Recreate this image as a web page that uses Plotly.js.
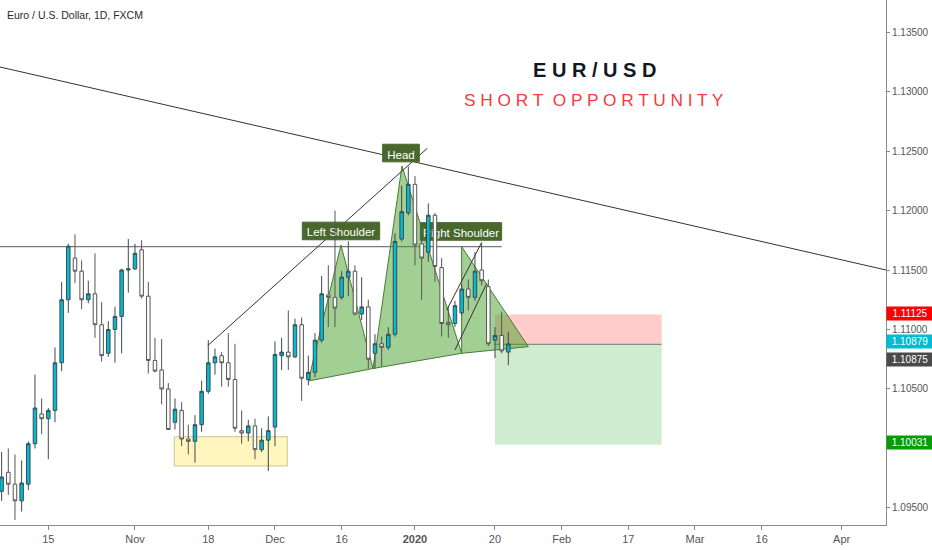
<!DOCTYPE html>
<html>
<head>
<meta charset="utf-8">
<script src="https://cdn.plot.ly/plotly-3.0.1.min.js"></script>
<style>html,body{margin:0;padding:0;background:#fff;}#chart{width:932px;height:550px;}</style>
</head>
<body>
<div id="chart"></div>
<script>
// ---------- data ----------
const dates = [
 '2019-10-04','2019-10-07','2019-10-08','2019-10-09','2019-10-10','2019-10-11','2019-10-14','2019-10-15','2019-10-16','2019-10-17',
 '2019-10-18','2019-10-21','2019-10-22','2019-10-23','2019-10-24','2019-10-25','2019-10-28','2019-10-29','2019-10-30','2019-10-31',
 '2019-11-01','2019-11-04','2019-11-05','2019-11-06','2019-11-07','2019-11-08','2019-11-11','2019-11-12','2019-11-13','2019-11-14',
 '2019-11-15','2019-11-18','2019-11-19','2019-11-20','2019-11-21','2019-11-22','2019-11-25','2019-11-26','2019-11-27','2019-11-28',
 '2019-11-29','2019-12-02','2019-12-03','2019-12-04','2019-12-05','2019-12-06','2019-12-09','2019-12-10','2019-12-11','2019-12-12',
 '2019-12-13','2019-12-16','2019-12-17','2019-12-18','2019-12-19','2019-12-20','2019-12-23','2019-12-24','2019-12-26','2019-12-27',
 '2019-12-30','2019-12-31','2020-01-02','2020-01-03','2020-01-06','2020-01-07','2020-01-08','2020-01-09','2020-01-10','2020-01-13',
 '2020-01-14','2020-01-15','2020-01-16','2020-01-17','2020-01-20','2020-01-21','2020-01-22'];
const open = [
 1.0964,1.0980,1.0970,1.0956,1.0970,1.1004,1.1029,1.1025,1.1032,1.1072,
 1.1125,1.1160,1.1149,1.1125,1.1130,1.1104,1.1080,1.1100,1.1111,1.1150,
 1.1151,1.1167,1.1128,1.1074,1.1066,1.1050,1.1022,1.1032,1.1008,1.1006,
 1.1020,1.1048,1.1072,1.1078,1.1072,1.1058,1.1015,1.1013,1.1019,1.0999,
 1.1007,1.1018,1.1078,1.1081,1.1077,1.1104,1.1058,1.1064,1.1091,1.1129,
 1.1127,1.1127,1.1144,1.1149,1.1113,1.1119,1.1080,1.1088,1.1085,1.1096,
 1.1176,1.1198,1.1222,1.1172,1.1165,1.1196,1.1152,1.1106,1.1105,1.1114,
 1.1134,1.1127,1.1150,1.1136,1.1091,1.1095,1.1081];
const high = [
 1.0997,1.1000,1.0995,1.0990,1.1006,1.1062,1.1042,1.1034,1.1085,1.1140,
 1.1172,1.1180,1.1158,1.1141,1.1164,1.1123,1.1107,1.1119,1.1151,1.1176,
 1.1172,1.1175,1.1140,1.1093,1.1092,1.1055,1.1042,1.1039,1.1020,1.1028,
 1.1057,1.1091,1.1084,1.1081,1.1097,1.1088,1.1032,1.1024,1.1025,1.1017,
 1.1027,1.1090,1.1093,1.1116,1.1109,1.1110,1.1078,1.1097,1.1145,1.1154,
 1.1200,1.1149,1.1174,1.1154,1.1144,1.1125,1.1096,1.1094,1.1102,1.1181,
 1.1221,1.1237,1.1229,1.1181,1.1206,1.1198,1.1160,1.1119,1.1124,1.1138,
 1.1142,1.1165,1.1173,1.1142,1.1102,1.1115,1.1098];
const low = [
 1.0956,1.0961,1.0940,1.0947,1.0965,1.1000,1.1012,1.0991,1.1022,1.1065,
 1.1114,1.1139,1.1117,1.1122,1.1093,1.1073,1.1077,1.1072,1.1080,1.1131,
 1.1150,1.1126,1.1063,1.1064,1.1037,1.1016,1.1016,1.1002,1.0995,1.0988,
 1.1014,1.1046,1.1062,1.1052,1.1052,1.1014,1.1004,1.1006,1.0991,1.0997,
 1.0981,1.1002,1.1066,1.1066,1.1076,1.1040,1.1053,1.1060,1.1089,1.1102,
 1.1102,1.1125,1.1128,1.1112,1.1108,1.1067,1.1067,1.1069,1.1083,1.1094,
 1.1174,1.1196,1.1154,1.1125,1.1157,1.1140,1.1094,1.1093,1.1102,1.1112,
 1.1116,1.1124,1.1137,1.1086,1.1076,1.1080,1.1070];
const close = [
 1.0976,1.0970,1.0956,1.0971,1.1004,1.1034,1.1025,1.1032,1.1072,1.1125,
 1.1170,1.1149,1.1125,1.1130,1.1104,1.1078,1.1100,1.1111,1.1150,1.1151,
 1.1164,1.1128,1.1074,1.1065,1.1050,1.1016,1.1033,1.1008,1.1006,1.1020,
 1.1048,1.1072,1.1077,1.1072,1.1058,1.1017,1.1013,1.1019,1.0999,1.1007,
 1.1015,1.1079,1.1081,1.1077,1.1104,1.1059,1.1064,1.1091,1.1130,1.1127,
 1.1118,1.1144,1.1149,1.1113,1.1119,1.1075,1.1088,1.1085,1.1096,1.1174,
 1.1199,1.1222,1.1171,1.1160,1.1196,1.1153,1.1105,1.1104,1.1120,1.1134,
 1.1127,1.1149,1.1141,1.1088,1.1095,1.1082,1.10879];

const holidays = ['2019-12-25','2020-01-01'];
const baseDate = '2019-10-15';
const tickDates = ['2019-10-15','2019-11-01','2019-11-18','2019-12-02','2019-12-16','2020-01-02',
                   '2020-01-20','2020-02-03','2020-02-17','2020-03-02','2020-03-16','2020-04-01'];
const tickLabels = ['15','Nov','18','Dec','16','<b>2020</b>','20','Feb','17','Mar','16','Apr'];
const priceTicks = [1.095,1.105,1.110,1.115,1.120,1.125,1.130,1.135];

// position tool (short)
const posDates = ['2020-01-20','2020-02-24'];
const entryPrice = 1.10875, stopPrice = 1.11125, targetPrice = 1.10031, lastPrice = 1.10879;

// drawings (trading-day index, price)
const hsIdx   = [39.0, 43.9, 48.7, 53.05, 62.0, 62.0, 72.0];
const hsPrice = [1.10567, 1.11710, 1.10672, 1.12374, 1.10800, 1.11696, 1.10856];
const trendIdx = [-7.25, 125.65],  trendPrice = [1.13206, 1.11500];
const resIdx = [-7.25, 68.0],      resPrice = [1.11696, 1.11696];
const riseIdx = [23.9, 56.85],     risePrice = [1.10864, 1.12523];
const chanAIdx = [59.76, 65.0],    chanAPrice = [1.11164, 1.11731];
const chanBIdx = [61.0, 65.76],    chanBPrice = [1.10828, 1.11388];
const zoneIdx = [18.9, 35.85],     zonePrice = [1.09853, 1.10099];
const labelText  = ['Left Shoulder','Head','Right Shoulder'];
const labelIdx   = [43.9, 52.9, 61.9];
const labelPrice = [1.11828, 1.12483, 1.11824];

// ---------- helpers ----------
const DAY = 864e5;
function isTrading(ms){
  const d = new Date(ms); const wd = d.getUTCDay();
  return wd !== 0 && wd !== 6 && holidays.indexOf(d.toISOString().slice(0,10)) < 0;
}
function tIdx(s){
  const b = Date.parse(baseDate+'T00:00:00Z'), t = Date.parse(s+'T00:00:00Z');
  let n = 0;
  if (t >= b){ for (let d=b+DAY; d<=t; d+=DAY) if (isTrading(d)) n++; }
  else { for (let d=t; d<b; d+=DAY) if (isTrading(d)) n--; }
  return n;
}

const SANS = '"Liberation Sans",Arial,sans-serif';
const xs = dates.map(tIdx);
const posX = posDates.map(tIdx);

const candle = {
  type:'candlestick', x: xs, open: open, high: high, low: low, close: close,
  increasing:{line:{color:'#3b4a4f', width:1}, fillcolor:'#00bcd4'},
  decreasing:{line:{color:'#555555', width:1}, fillcolor:'#ffffff'},
  whiskerwidth:0, hoverinfo:'skip', showlegend:false
};

function tri(i,j,k){
  return 'M '+hsIdx[i]+','+hsPrice[i]+' L '+hsIdx[j]+','+hsPrice[j]+' L '+hsIdx[k]+','+hsPrice[k]+' Z';
}
function seg(xa, ya, color, width){
  return {type:'line', xref:'x', yref:'y', x0:xa[0], y0:ya[0], x1:xa[1], y1:ya[1],
          line:{color:color, width:width}, layer:'below'};
}
const shapes = [
  {type:'rect', xref:'x', yref:'y', x0:posX[0], x1:posX[1], y0:entryPrice, y1:stopPrice,
   fillcolor:'#ffcccc', line:{width:0}, layer:'below'},
  {type:'rect', xref:'x', yref:'y', x0:posX[0], x1:posX[1], y0:targetPrice, y1:entryPrice,
   fillcolor:'#d0ecd0', line:{width:0}, layer:'below'},
  seg(posX, [entryPrice, entryPrice], '#8a8a8a', 1.2),
  {type:'rect', xref:'x', yref:'y', x0:zoneIdx[0], x1:zoneIdx[1], y0:zonePrice[0], y1:zonePrice[1],
   fillcolor:'#fff5be', line:{color:'#cfc68e', width:1}, layer:'below'},
  seg(resIdx, resPrice, '#7a7a7a', 1.3),
  {type:'path', xref:'x', yref:'y', path:tri(0,1,2), fillcolor:'rgba(70,160,40,0.5)', line:{color:'#4b7a35', width:1}, layer:'below'},
  {type:'path', xref:'x', yref:'y', path:tri(2,3,4), fillcolor:'rgba(70,160,40,0.5)', line:{color:'#4b7a35', width:1}, layer:'below'},
  {type:'path', xref:'x', yref:'y', path:tri(4,5,6), fillcolor:'rgba(70,160,40,0.5)', line:{color:'#4b7a35', width:1}, layer:'below'},
  seg(trendIdx, trendPrice, '#333333', 1),
  seg(riseIdx, risePrice, '#333333', 1),
  seg(chanAIdx, chanAPrice, '#333333', 1),
  seg(chanBIdx, chanBPrice, '#333333', 1)
];
const labelHalfW = [5.8, 2.75, 6.1];
labelText.forEach(function(t, i){
  shapes.push({type:'rect', xref:'x', yref:'y',
    x0:labelIdx[i]-labelHalfW[i], x1:labelIdx[i]+labelHalfW[i],
    y0:labelPrice[i]-0.00074, y1:labelPrice[i]+0.00074,
    fillcolor:'#48682d', line:{color:'#48682d', width:1}, layer:'below',
    label:{text:t, font:{family:SANS, size:11.5, color:'#ffffff'},
           textposition:'middle center'}});
});

function priceTag(p, bg, shift){
  return {xref:'paper', yref:'y', x:1, y:p, xanchor:'left', yanchor:'middle', yshift:shift||0,
    text:p.toFixed(5), showarrow:false, bgcolor:bg, width:44, align:'center', borderpad:1,
    font:{family:SANS, size:10, color:'#ffffff'}};
}

const annotations = [
  {xref:'paper', yref:'paper', x:0, y:1, xanchor:'left', yanchor:'top', xshift:5, yshift:-7,
   text:'Euro / U.S. Dollar, 1D, FXCM', showarrow:false,
   font:{family:SANS, size:10.5, color:'#2a2a2a'}},
  {xref:'paper', yref:'paper', x:594/886, y:1-69.7/525, xanchor:'center', yanchor:'middle',
   text:'<b>E U R / U S D</b>', showarrow:false, font:{family:SANS, size:20, color:'#131722'}},
  {xref:'paper', yref:'paper', x:594/886, y:1-99.7/525, xanchor:'center', yanchor:'middle',
   text:'S H O R T  O P P O R T U N I T Y', showarrow:false, font:{family:SANS, size:17.3, color:'#f23c3c'}},
  priceTag(stopPrice, '#ff0000', 1),
  priceTag(lastPrice, '#00bcd4', 2),
  priceTag(entryPrice, '#4a4a4a', -15),
  priceTag(targetPrice, '#089c08', 2)
];

const layout = {
  width:932, height:550, margin:{l:0, r:46, t:0, b:25},
  paper_bgcolor:'#ffffff', plot_bgcolor:'#ffffff', showlegend:false, boxgap:0.25,
  xaxis:{range:[-7.245, 125.65], showgrid:false, zeroline:false, showline:true, linecolor:'#8a8a8a',
         linewidth:1, ticks:'outside', ticklen:4, tickcolor:'#8a8a8a',
         tickvals: tickDates.map(tIdx), ticktext: tickLabels,
         tickfont:{family:SANS, size:11, color:'#555555'}, rangeslider:{visible:false}, fixedrange:true},
  yaxis:{side:'right', range:[1.09357, 1.13769], showgrid:false, zeroline:false, showline:true,
         linecolor:'#8a8a8a', linewidth:1, ticks:'outside', ticklen:3, tickcolor:'#8a8a8a',
         tickvals: priceTicks, ticktext: priceTicks.map(function(v){return v.toFixed(5);}),
         tickfont:{family:SANS, size:10, color:'#555555'}, fixedrange:true},
  shapes: shapes,
  annotations: annotations
};

Plotly.newPlot('chart', [candle], layout, {displayModeBar:false, staticPlot:true});
</script>
</body>
</html>
